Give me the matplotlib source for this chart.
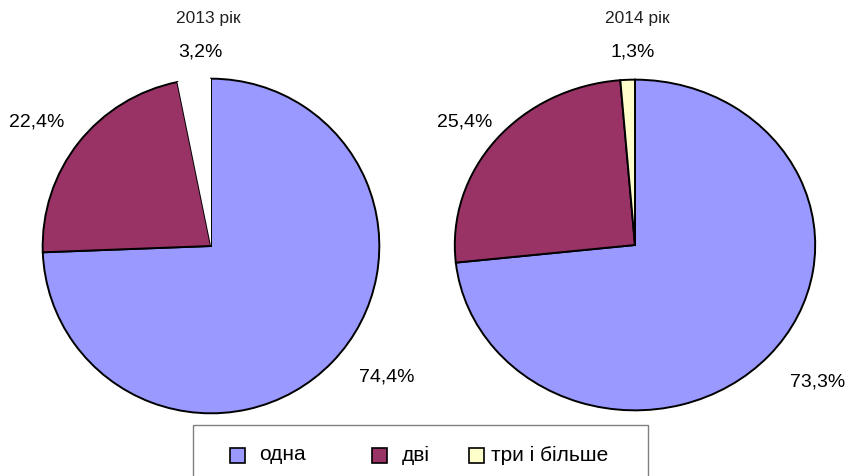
import matplotlib
matplotlib.use("Agg")
import matplotlib.pyplot as plt
from matplotlib.patches import Rectangle

categories = ["одна", "дві", "три і більше"]
years = ["2013 рік", "2014 рік"]
values_2013 = [74.4, 22.4, 3.2]
values_2014 = [73.3, 25.4, 1.3]

colors_2013 = ["#9999FF", "#993366", "#FFFFFF"]
colors_2014 = ["#9999FF", "#993366", "#FFFFCC"]
legend_colors = ["#9999FF", "#993366", "#FFFFCC"]

W, H = 849, 477
fig = plt.figure(figsize=(W / 100, H / 100), dpi=100)
plt.rcParams['font.family'] = ['Liberation Sans', 'DejaVu Sans']

def fig_axes(cx, cy, rx, ry):
    # cx, cy in pixel coordinates (top origin)
    return fig.add_axes([(cx - rx) / W, (H - cy - ry) / H, 2 * rx / W, 2 * ry / H])

# pixel label positions (style)
label_pos = [
    [(387, 377), (37, 122), (200, 52)],
    [(818, 382), (465, 122), (633, 52)],
]
geom = [(211, 247, 170, 169), (635, 246, 182, 167)]
title_pos = [(208, 18), (637, 18)]

for i, (vals, cols) in enumerate([(values_2013, colors_2013), (values_2014, colors_2014)]):
    cx, cy, rx, ry = geom[i]
    ax = fig_axes(cx, cy, rx, ry)
    wedges, _ = ax.pie(vals, colors=cols, startangle=90, counterclock=False,
                       radius=1.0, center=(0, 0),
                       wedgeprops=dict(edgecolor="black", linewidth=1.4))
    if i == 0:
        wedges[2].set_edgecolor("none")
    ax.set_xlim(-1.01, 1.01)
    ax.set_ylim(-1.01, 1.01)
    ax.set_aspect("auto")
    ax.axis("off")
    for v, (px, py) in zip(vals, label_pos[i]):
        fig.text(px / W, 1 - py / H, f"{v:.1f}%".replace(".", ","),
                 ha="center", va="center", fontsize=14, color="black")
    fig.text(title_pos[i][0] / W, 1 - title_pos[i][1] / H, years[i],
             ha="center", va="center", fontsize=12.5, color="#222222")

# legend box
lax = fig.add_axes([0, 0, 1, 1], facecolor="none")
lax.set_xlim(0, W)
lax.set_ylim(H, 0)
lax.axis("off")
lax.add_patch(Rectangle((193.5, 426), 455, 60, fill=False, edgecolor="#808080", linewidth=1.0))
sq_x = [230, 372, 469]
txt_x = [259, 402, 491]
for c, lab, sx, tx in zip(legend_colors, categories, sq_x, txt_x):
    lax.add_patch(Rectangle((sx, 449), 15, 15, facecolor=c, edgecolor="black", linewidth=1.2))
    lax.text(tx, 455, lab, ha="left", va="center", fontsize=15, color="black")

fig.savefig("out.png", dpi=100)
